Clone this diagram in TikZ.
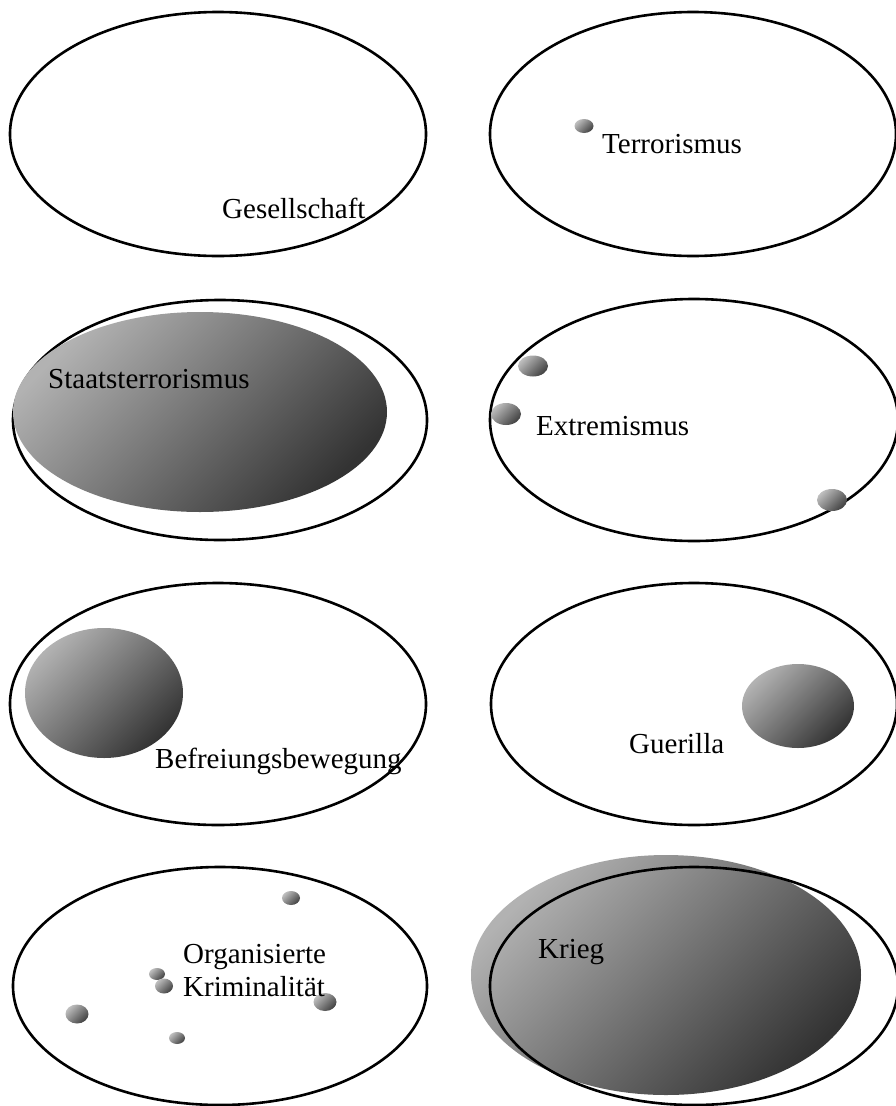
\documentclass[tikz,border=0pt]{standalone}
\usepackage{fontspec}
\setmainfont{Liberation Serif}
\usetikzlibrary{shapes}
\tikzset{
  menge/.style = {ellipse, draw=black, line width=2.6pt, inner sep=0pt},% Menge, nur Umriss
  kern/.style = {ellipse, draw=none, inner sep=0pt,
    top color=black!30, bottom color=black!80, shading angle=45},% Teilmenge, schattiert
  punkt/.style = {kern, top color=black!25, bottom color=black!75,
    shading angle=45},% kleine Gruppe
  etikett/.style = {anchor=base west, inner sep=0pt, align=left,
    font=\fontsize{29}{33}\selectfont}% Beschriftung
}

\begin{document}
\begin{tikzpicture}[x=1pt,y=-1pt]
\useasboundingbox (0,0) rectangle (896,1106);

% Gesellschaft
\node [menge, minimum width=416pt, minimum height=244pt] (m1) at (218,134) {};
\node [etikett] (l1) at (222,218) {Gesellschaft};

% Terrorismus
\node [menge, minimum width=406pt, minimum height=244pt] (m2) at (693,134) {};
\node [punkt, minimum width=19pt, minimum height=14pt] (p2) at (584,126) {};
\node [etikett] (l2) at (602,153) {Terrorismus};

% Staatsterrorismus
\node [menge, minimum width=414pt, minimum height=240pt] (m3) at (220,420) {};
\node [kern, minimum width=374pt, minimum height=200pt] (k3) at (200,412) {};
\node [etikett] (l3) at (48,388) {Staatsterrorismus};

% Extremismus
\node [menge, minimum width=408pt, minimum height=242pt] (m4) at (694,420) {};
\node [punkt, minimum width=30pt, minimum height=21pt] (p4a) at (533,366) {};
\node [punkt, minimum width=30pt, minimum height=22pt] (p4b) at (506,414) {};
\node [punkt, minimum width=30pt, minimum height=22pt] (p4c) at (832,500) {};
\node [etikett] (l4) at (536,435) {Extremismus};

% Befreiungsbewegung
\node [menge, minimum width=416pt, minimum height=242pt] (m5) at (218,704) {};
\node [kern, minimum width=158pt, minimum height=130pt] (k5) at (104,693) {};
\node [etikett] (l5) at (155,768) {Befreiungsbewegung};

% Guerilla
\node [menge, minimum width=406pt, minimum height=242pt] (m6) at (694,704) {};
\node [kern, minimum width=112pt, minimum height=84pt] (k6) at (798,706) {};
\node [etikett] (l6) at (629,753) {Guerilla};

% Organisierte Kriminalitaet
\node [menge, minimum width=414pt, minimum height=238pt] (m7) at (220,986) {};
\node [punkt, minimum width=18pt, minimum height=14pt] (p7a) at (291,898) {};
\node [punkt, minimum width=16pt, minimum height=12pt] (p7b) at (157,974) {};
\node [punkt, minimum width=18pt, minimum height=15pt] (p7c) at (164,986) {};
\node [punkt, minimum width=23pt, minimum height=18pt] (p7d) at (325,1002) {};
\node [punkt, minimum width=23pt, minimum height=19pt] (p7e) at (77,1014) {};
\node [punkt, minimum width=16pt, minimum height=12pt] (p7f) at (177,1038) {};
\node [etikett] (l7) at (183,996) {Organisierte\\Kriminalität};% base = letzte Zeile

% Krieg
\node [kern, minimum width=390pt, minimum height=240pt] (k8) at (666,975) {};
\node [menge, minimum width=408pt, minimum height=238pt] (m8) at (694,986) {};
\node [etikett] (l8) at (538,958) {Krieg};
\end{tikzpicture}
\end{document}
